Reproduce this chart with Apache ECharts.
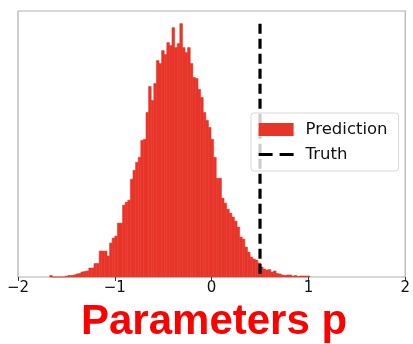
<!DOCTYPE html>
<html>
<head>
<meta charset="utf-8">
<script src="https://cdn.jsdelivr.net/npm/echarts@6/dist/echarts.min.js"></script>
<style>
  html, body { margin: 0; padding: 0; background: #fff; }
  #chart { width: 413px; height: 344px; }
</style>
</head>
<body>
<div id="chart"></div>
<script>
// Histogram of sampled parameter p: 100 equal-width bins between binStart and binEnd
const binStart = -1.672;
const binEnd = 1.015;
const counts = [
  3, 0, 0, 0, 0, 0, 2, 3, 3, 4,
  6, 7, 10, 11, 12, 18, 18, 27, 27, 52,
  52, 52, 42, 68, 78, 82, 108, 108, 144, 150,
  154, 196, 214, 230, 240, 274, 276, 330, 382, 354,
  388, 434, 428, 454, 446, 470, 464, 500, 460, 468,
  508, 460, 450, 460, 428, 400, 398, 376, 360, 330,
  314, 300, 276, 240, 198, 198, 158, 148, 136, 128,
  120, 112, 100, 80, 76, 60, 50, 40, 36, 34,
  28, 20, 16, 14, 15, 10, 12, 7, 6, 4,
  3, 4, 4, 2, 3, 1, 2, 2, 2, 2
];
// True value of p
const truthValue = 0.5;
// x-axis ticks
const xTicks = [-2, -1, 0, 1, 2];

const binWidth = (binEnd - binStart) / counts.length;
const bins = counts.map((c, i) => [binStart + i * binWidth, binStart + (i + 1) * binWidth, c]);
const peak = Math.max(...counts);

const chart = echarts.init(document.getElementById('chart'), null, { renderer: 'canvas' });

const red = '#e8352a';

chart.setOption({
  animation: false,
  backgroundColor: '#fff',
  title: {
    text: 'Parameters p',
    left: 76,
    top: 296,
    textStyle: {
      fontFamily: 'Liberation Sans',
      fontWeight: 'bold',
      fontSize: 42,
      color: '#ff0000'
    }
  },
  grid: {
    left: 18, right: 6, top: 11, bottom: 67,
    show: true,
    borderColor: '#b0b0b0',
    borderWidth: 1.2,
    backgroundColor: 'transparent'
  },
  legend: {
    orient: 'vertical',
    left: 251,
    top: 113,
    padding: [8, 11, 8, 6],
    itemGap: 8,
    itemWidth: 35,
    itemHeight: 13,
    backgroundColor: 'rgba(255,255,255,0.8)',
    borderColor: '#d8d8d8',
    borderWidth: 1,
    borderRadius: 3,
    z: 10,
    textStyle: {
      fontFamily: 'DejaVu Sans',
      fontSize: 16.5,
      color: '#111',
      padding: [0, 0, 0, 7]
    },
    data: [
      { name: 'Prediction', icon: 'rect' },
      {
        name: 'Truth',
        itemStyle: { opacity: 0 },
        lineStyle: { type: [14, 7], width: 3.2, color: '#000' }
      }
    ]
  },
  xAxis: {
    type: 'value',
    min: -2,
    max: 2,
    interval: 1,
    axisLine: { show: false },
    axisTick: { show: true, inside: false, length: 4, lineStyle: { color: '#333', width: 1 } },
    splitLine: { show: false },
    axisLabel: {
      color: '#111',
      fontFamily: 'DejaVu Sans',
      fontSize: 15,
      margin: 4,
      formatter: v => (xTicks.includes(v) ? (v < 0 ? '\u2212' + Math.abs(v) : String(v)) : '')
    }
  },
  yAxis: {
    type: 'value',
    min: 0,
    max: peak * 1.05,
    show: false,
    splitLine: { show: false }
  },
  series: [
    {
      name: 'Prediction',
      type: 'custom',
      itemStyle: { color: red },
      data: bins,
      encode: { x: [0, 1], y: 2 },
      renderItem: function (params, api) {
        const p0 = api.coord([api.value(0), api.value(2)]);
        const p1 = api.coord([api.value(1), 0]);
        return {
          type: 'rect',
          shape: { x: p0[0], y: p0[1], width: p1[0] - p0[0], height: p1[1] - p0[1] },
          style: { fill: red, stroke: red, lineWidth: 0.6 }
        };
      }
    },
    {
      name: 'Truth',
      type: 'line',
      symbol: 'none',
      // drawn top-down so the dash pattern starts at the peak height
      data: [[truthValue, peak], [truthValue, 0]],
      lineStyle: { color: '#000', width: 3.2, type: [10, 5] },
      itemStyle: { color: '#000' },
      z: 3
    }
  ]
});
</script>
</body>
</html>
